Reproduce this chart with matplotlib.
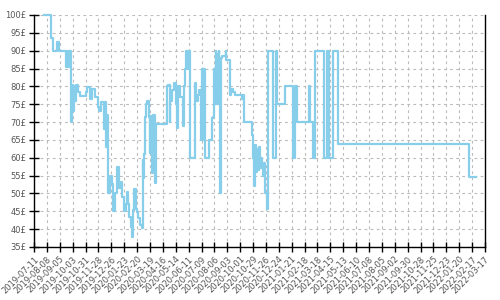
import pandas as pd
import matplotlib
matplotlib.use("Agg")
import matplotlib.pyplot as plt
from matplotlib.ticker import FuncFormatter

# price change points (step chart, value holds until next date)
dates = [
    "2019-08-01", "2019-08-17", "2019-08-22", "2019-08-31", "2019-09-04",
    "2019-09-18", "2019-09-21", "2019-09-23", "2019-09-26", "2019-09-30",
    "2019-10-02", "2019-10-04", "2019-10-06", "2019-10-08", "2019-10-11",
    "2019-10-14", "2019-10-20", "2019-10-31", "2019-11-04", "2019-11-09",
    "2019-11-14", "2019-11-20", "2019-11-26", "2019-11-30", "2019-12-03",
    "2019-12-10", "2019-12-12", "2019-12-14", "2019-12-16", "2019-12-18",
    "2019-12-24", "2019-12-27", "2019-12-30", "2020-01-02", "2020-01-08",
    "2020-01-12", "2020-01-16", "2020-01-19", "2020-01-22", "2020-01-26",
    "2020-01-29", "2020-02-01", "2020-02-03", "2020-02-06", "2020-02-08",
    "2020-02-11", "2020-02-13", "2020-02-17", "2020-02-20", "2020-02-23",
    "2020-02-26", "2020-03-01", "2020-03-03", "2020-03-04", "2020-03-06",
    "2020-03-08", "2020-03-10", "2020-03-13", "2020-03-16", "2020-03-19",
    "2020-03-20", "2020-03-23", "2020-03-26", "2020-03-30", "2020-04-01",
    "2020-04-25", "2020-04-28", "2020-05-01", "2020-05-02", "2020-05-05",
    "2020-05-11", "2020-05-14", "2020-05-16", "2020-05-19", "2020-05-23",
    "2020-05-29", "2020-05-31", "2020-06-01", "2020-06-03", "2020-06-06",
    "2020-06-09", "2020-06-10", "2020-06-13", "2020-06-25", "2020-06-28",
    "2020-07-01", "2020-07-04", "2020-07-07", "2020-07-11", "2020-07-12",
    "2020-07-13", "2020-07-14", "2020-07-15", "2020-07-17", "2020-07-26",
    "2020-08-01", "2020-08-03", "2020-08-05", "2020-08-07", "2020-08-09",
    "2020-08-10", "2020-08-12", "2020-08-13", "2020-08-15", "2020-08-16",
    "2020-08-18", "2020-08-19", "2020-08-20", "2020-08-23", "2020-08-31",
    "2020-09-01", "2020-09-08", "2020-09-12", "2020-09-16", "2020-09-19",
    "2020-10-04", "2020-10-07", "2020-10-10", "2020-10-27", "2020-10-29",
    "2020-10-31", "2020-11-02", "2020-11-04", "2020-11-06", "2020-11-08",
    "2020-11-11", "2020-11-13", "2020-11-15", "2020-11-18", "2020-11-20",
    "2020-11-22", "2020-11-25", "2020-11-28", "2020-11-30", "2020-12-12",
    "2020-12-17", "2020-12-21", "2021-01-06", "2021-01-23", "2021-01-28",
    "2021-02-02", "2021-02-27", "2021-03-02", "2021-03-09", "2021-03-12",
    "2021-04-01", "2021-04-07", "2021-04-12", "2021-04-20", "2021-05-02",
    "2022-02-10", "2022-02-25",
]
prices = [
    100, 93.5, 90, 92.5, 90,
    85.5, 90, 85.5, 90, 70,
    80.5, 73, 80, 76, 80.5,
    78.3, 77.3, 78.5, 79.7, 76.5,
    79.2, 77, 74.3, 73.2, 75.5,
    68, 75.5, 63, 72, 50,
    55, 52.5, 45, 50, 57.5,
    51.5, 53.2, 49, 45, 47,
    50.5, 47, 43.5, 40.7, 37.8,
    45.3, 51.2, 45.6, 44.8, 43,
    41, 40.4, 59.3, 54.2, 61,
    71.5, 75, 76, 71.5, 61.2,
    71.7, 55.6, 72, 52.8, 69.5,
    80, 80.5, 70, 76, 79,
    81, 75, 68.3, 80, 77,
    69, 77, 80, 85, 90,
    85, 90, 60, 80.8, 76,
    77.6, 79, 65, 85, 65,
    85, 70, 85, 60, 65,
    71, 71.5, 85, 75, 90,
    75, 89, 75, 90, 76,
    88, 50, 88, 88.5, 90,
    87.5, 77.6, 79.3, 78.5, 77.6,
    76.4, 77.6, 70, 66.5, 60,
    52, 63.5, 56, 62.5, 56.5,
    63, 57, 60, 58, 55,
    58.5, 50, 45.5, 90, 60,
    90, 75, 80, 60, 80,
    70, 80, 70, 60, 90,
    60, 90, 60, 90, 63.9,
    54.5, 54.5,
]

x = pd.to_datetime(dates)

y_ticks = list(range(35, 101, 5))
x_ticks = pd.date_range("2019-07-11", "2022-03-17", freq="28D")

fig = plt.figure(figsize=(5, 3), dpi=100)
ax = fig.add_axes([0.068, 0.177, 0.902, 0.773])

ax.step(x, prices, where="post", color="#87ceeb", linewidth=1.6, clip_on=False, zorder=3)

ax.set_xlim(x_ticks[0], x_ticks[-1])
ax.set_ylim(35, 100)
ax.set_xticks(x_ticks)
ax.set_xticklabels([d.strftime("%Y-%m-%d") for d in x_ticks], rotation=45,
                   ha="right", va="top", rotation_mode="anchor")
ax.set_yticks(y_ticks)
ax.yaxis.set_major_formatter(FuncFormatter(lambda v, p: f"{int(v)}£"))

ax.grid(True, color="#bbbbbb", linestyle=(0, (2.5, 3)), linewidth=0.8)

ax.spines["top"].set_visible(False)
for s in ["left", "bottom", "right"]:
    ax.spines[s].set_color("black")
    ax.spines[s].set_linewidth(1.0)

ax.tick_params(axis="both", direction="inout", length=7, width=1, color="black",
               labelsize=6, labelcolor="#555555")
ax.tick_params(axis="y", pad=2)
ax.tick_params(axis="x", pad=2)

fig.savefig("out.png", dpi=100)
